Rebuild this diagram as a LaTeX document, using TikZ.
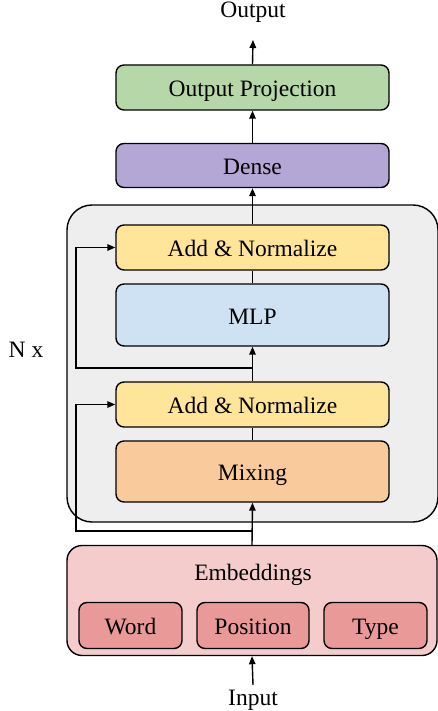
\documentclass[tikz,border=0pt]{standalone}
\usepackage{fontspec}
\setmainfont{Liberation Serif}
\usetikzlibrary{arrows.meta}
\definecolor{cgreen}{HTML}{B6D7A8}
\definecolor{cpurple}{HTML}{B4A7D6}
\definecolor{cyellow}{HTML}{FFE599}
\definecolor{cblue}{HTML}{CFE2F3}
\definecolor{corange}{HTML}{F9CB9C}
\definecolor{cpink}{HTML}{F4CCCC}
\definecolor{cred}{HTML}{EA9999}
\definecolor{cgray}{HTML}{EEEEEE}
\tikzset{
  txt/.style={font=\fontsize{23.5}{27}\selectfont, text height=18pt, text depth=0pt},
  blk/.style={txt, draw=black, line width=1.4pt, rounded corners=8pt, inner sep=0pt, minimum width=273pt},
  sub/.style={txt, draw=black, line width=1.4pt, rounded corners=8pt, inner sep=0pt, minimum height=46pt, fill=cred},
  lbl/.style={txt, inner sep=0pt},
  arr/.style={line width=1.4pt, -{Triangle[length=8pt,width=6.5pt]}},
  ln/.style={line width=1.4pt},
}
\begin{document}
\begin{tikzpicture}[x=1pt,y=-1pt]
\useasboundingbox (0,0) rectangle (438,711);
% container boxes
\node[draw=black, line width=1.4pt, rounded corners=25pt, fill=cgray, minimum width=371pt, minimum height=317pt, inner sep=0pt] (stack) at (252.5,363.5) {};
\node[draw=black, line width=1.4pt, rounded corners=15pt, fill=cpink, minimum width=370pt, minimum height=110pt, inner sep=0pt] (emb) at (252,600.5) {};
% blocks
\node[blk, fill=cgreen, minimum height=45pt] (outproj) at (252.5,87.5) {Output Projection};
\node[blk, fill=cpurple, minimum height=44pt] (dense) at (252.5,165.5) {Dense};
\node[blk, fill=cyellow, minimum height=45pt] (an1) at (252.5,247.5) {Add \& Normalize};
\node[blk, fill=cblue, minimum height=62pt] (mlp) at (252.5,315) {MLP};
\node[blk, fill=cyellow, minimum height=45pt] (an2) at (252.5,404.5) {Add \& Normalize};
\node[blk, fill=corange, minimum height=61pt] (mix) at (252.5,471.5) {Mixing};
% embeddings
\node[lbl] (embtxt) at (253,571) {Embeddings};
\node[sub, minimum width=103pt] (word) at (130.5,625.5) {Word};
\node[sub, minimum width=112pt] (pos) at (253,625.5) {Position};
\node[sub, minimum width=103pt] (type) at (375.5,625.5) {Type};
% labels
\node[lbl] (out) at (253,9) {Output};
\node[lbl] (in) at (253,696) {Input};
\node[lbl] (nx) at (26,348) {N x};
% coordinates
\coordinate (outtip) at (253,40);
\coordinate (intail) at (253,685);
\coordinate (j1) at (253,368);
\coordinate (s1) at (76,368);
\coordinate (j2) at (253,531);
\coordinate (s2) at (76,531);
% main flow
\draw[arr] (intail) -- (emb.south);
\draw[arr] (emb.north) -- (mix.south);
\draw[ln] (mix.north) -- (an2.south);
\draw[arr] (an2.north) -- (mlp.south);
\draw[ln] (mlp.north) -- (an1.south);
\draw[arr] (an1.north) -- (dense.south);
\draw[arr] (dense.north) -- (outproj.south);
\draw[arr] (outproj.north) -- (outtip);
% residuals
\draw[arr] (j1) -- (s1) |- (an1.west);
\draw[arr] (j2) -- (s2) |- (an2.west);
\end{tikzpicture}
\end{document}
